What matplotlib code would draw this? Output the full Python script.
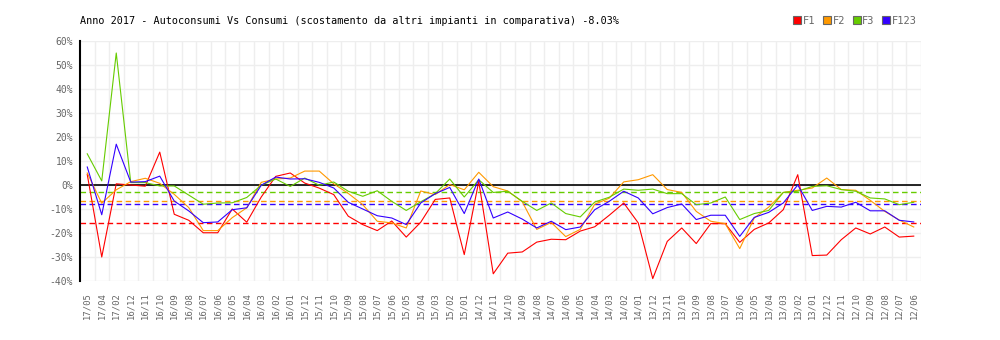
import numpy as np
import matplotlib
matplotlib.use("Agg")
import matplotlib.pyplot as plt
from matplotlib.lines import Line2D

mesi = ['17/05', '17/04', '17/02',
        '16/12', '16/11', '16/10', '16/09', '16/08', '16/07', '16/06', '16/05', '16/04', '16/03', '16/02', '16/01',
        '15/12', '15/11', '15/10', '15/09', '15/08', '15/07', '15/06', '15/05', '15/04', '15/03', '15/02', '15/01',
        '14/12', '14/11', '14/10', '14/09', '14/08', '14/07', '14/06', '14/05', '14/04', '14/03', '14/02', '14/01',
        '13/12', '13/11', '13/10', '13/09', '13/08', '13/07', '13/06', '13/05', '13/04', '13/03', '13/02', '13/01',
        '12/12', '12/11', '12/10', '12/09', '12/08', '12/07', '12/06']

f1 = [4.4, -30, 0.5, 0, -0.5, 13.7, -12.2, -14.7, -19.9, -19.9, -10, -15.5,
      -5, 3.6, 5, 0.8, -1.3, -4, -13, -16.5, -19, -15, -21.7, -15.5,
      -6, -5.4, -29, 1.5, -37, -28.4, -27.9, -23.8, -22.6, -22.8, -19.2, -17.4,
      -12.6, -7.5, -15.8, -39, -23.5, -17.9, -24.4, -16.1, -16.1, -23.9, -18.5,
      -15.8, -10.3, 4.3, -29.4, -29.2, -22.8, -17.9, -20.4, -17.5, -21.7, -21.3]

f2 = [5, -7.6, -2, 1.4, 2.8, 0.7, -3.9, -9.4, -19, -19, -13.6, -9.5,
      1.1, 2.5, 2.9, 5.8, 5.8, 0.5, -3.5, -8.2, -15.1, -15.8, -17.9, -2.5,
      -4, 0.2, -2, 5.3, -0.7, -2.5, -7, -18.5, -15.6, -21.5, -18.5, -8,
      -5.5, 1.3, 2.2, 4.3, -1.9, -3.1, -11, -15.1, -16.1, -26.5, -13.75,
      -9.2, -3.1, -2.2, -1.25, 2.9, -1.9, -2.2, -6.4, -11, -14.6, -17.5]

f3 = [13, 1.7, 55, 1, 1, -0.4, -0.4, -4.2, -8, -7.5, -7.4, -5.2,
      -0.1, 2.5, -0.6, 2.9, -0.1, 1.25, -2.6, -4.7, -2.4, -6.8, -10.6, -7,
      -3.6, 2.5, -5, 2.2, -3.1, -2.6, -6.8, -10.6, -7.5, -11.9, -13.3, -7.1,
      -5.1, -1.7, -2.2, -1.7, -3.6, -3.6, -8.2, -7.5, -5, -14.4, -11.9,
      -10.6, -3.1, -2.6, -0.6, -0.3, -1.9, -2.6, -5.4, -5.8, -8.2, -7.2]

f123 = [7.5, -12.4, 17, 1.2, 1.4, 3.7, -6.7, -10.8, -15.7, -15.4, -10.3, -9.5,
        -0.1, 3.3, 2.5, 2.6, 1.1, -1.25, -7.2, -10, -12.8, -13.75, -16.5, -7.5,
        -3.6, -1, -11.9, 2.5, -13.75, -11.25, -14.2, -17.9, -15.1, -18.6, -17.5, -10.3,
        -6.8, -2.6, -5.4, -12, -9.4, -7.9, -14.4, -12.6, -12.6, -21.4, -13.5,
        -11.4, -7.5, 0, -10.6, -8.9, -9.2, -7.2, -10.75, -10.75, -14.7, -15.4]

# medie per fascia (linee tratteggiate)
medie = [-15.8, -6.7, -2.9, -8.03]

serie = [f1, f2, f3, f123]
nomi = ['F1', 'F2', 'F3', 'F123']
colori = ['#ff0000', '#ff9900', '#66cc00', '#3300ff']

mono = 'DejaVu Sans Mono'
grigio = '#666666'

fig = plt.figure(figsize=(10, 3.4), dpi=100)
ax = fig.add_axes([0.08, 1 - 281 / 340, 0.841, 240 / 340])

x = np.arange(len(mesi))
for dati, media, c in zip(serie, medie, colori):
    ax.plot(x, dati, color=c, lw=0.8, zorder=3)
    ax.axhline(media, color=c, lw=1.0, dashes=(4, 2.5), zorder=2)
ax.axhline(0, color='black', lw=1.2, zorder=2.5)

ax.set_xlim(-0.5, len(mesi) - 0.5)
ax.set_ylim(-40, 60)
ax.set_xticks(x)
ax.set_xticklabels(mesi, rotation=90, fontsize=6.4, family=mono, color=grigio)
ax.set_xticks(x + 0.5, minor=True)
yt = np.arange(-40, 61, 10)
ax.set_yticks(yt)
ax.set_yticklabels([f'{v}%' for v in yt], fontsize=7, family=mono, color=grigio)
ax.tick_params(which='both', length=0)
ax.tick_params(axis='x', pad=8)
ax.tick_params(axis='y', pad=5)

ax.grid(axis='y', which='major', color='#eeeeee', lw=1)
ax.grid(axis='x', which='minor', color='#eeeeee', lw=1)
ax.set_axisbelow(True)

for s in ['top', 'right', 'bottom']:
    ax.spines[s].set_visible(False)
ax.spines['left'].set_color('black')
ax.spines['left'].set_linewidth(1.5)

fig.text(0.08, 1 - 21 / 340, 'Anno 2017 - Autoconsumi Vs Consumi (scostamento da altri impianti in comparativa) -8.03%',
         fontsize=7.3, family=mono, color='black', va='center', ha='left')

handles = [Line2D([], [], marker='s', ls='none', markerfacecolor=c, markeredgecolor=grigio,
                  markeredgewidth=0.8, markersize=6) for c in colori]
leg = fig.legend(handles, nomi, loc='center right', bbox_to_anchor=(0.917, 1 - 21 / 340),
                 ncol=4, frameon=False, handlelength=0.8, handletextpad=0.15,
                 columnspacing=0.7, borderaxespad=0, borderpad=0,
                 prop={'family': mono, 'size': 7.5})
for t in leg.get_texts():
    t.set_color(grigio)

fig.savefig('out.png', dpi=100)
